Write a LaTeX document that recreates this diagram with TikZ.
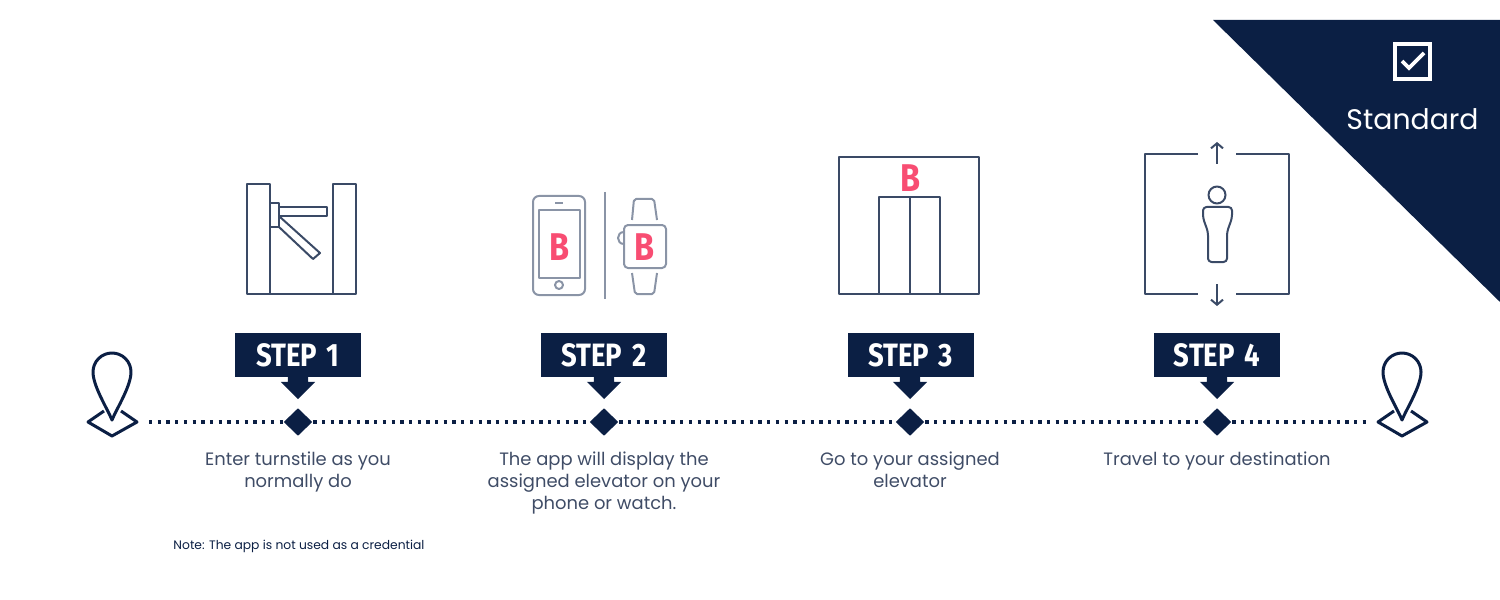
\documentclass[tikz,border=0pt]{standalone}
\usepackage{fontspec}
\setmainfont{Poppins}
\newfontfamily\stepfont[FakeStretch=0.85, WordSpace=1.5]{Fira Sans}
\newfontfamily\badgefont[FakeStretch=0.84]{Fira Sans}
\usepackage{xcolor}
\usetikzlibrary{shapes.geometric, shapes.arrows, arrows.meta}
\definecolor{navy}{HTML}{0B1F44}
\definecolor{iconline}{HTML}{3A4A66}
\definecolor{paleline}{HTML}{8A94A6}
\definecolor{brandred}{HTML}{F84D72}
\definecolor{bodytext}{HTML}{3F4C66}

\begin{document}
\begin{tikzpicture}[
		x=0.1mm, y=-0.1mm,
		% Define styles for the nodes and icons
		step_box/.style={
			rectangle,
			fill=navy,
			text=white,
			font=\fontsize{9.2}{10}\stepfont\bfseries,
			minimum width=12.6mm,
			minimum height=4.4mm,
			inner sep=0pt
		},
		down_arrow/.style={
			single arrow,
			fill=navy,
			shape border rotate=270,
			minimum height=2.3mm,
			single arrow head extend=0.7mm,
			single arrow tip angle=90,
			single arrow head indent=0pt,
			inner xsep=0.95mm,
			inner ysep=0pt,
			anchor=tip
		},
		stop_node/.style={
			diamond,
			fill=navy,
			minimum width=2.9mm,
			minimum height=2.8mm,
			inner sep=0pt
		},
		desc_text/.style={
			font=\fontsize{5.1}{6.24}\selectfont,
			text=bodytext,
			align=center,
			anchor=north,
			inner sep=0pt
		},
		badge_b/.style={
			font=\fontsize{11}{12}\badgefont\bfseries,
			text=brandred,
			inner sep=0pt
		},
		icon_line/.style={
			draw=iconline,
			line width=0.2mm,
			line join=round
		},
		pale_line/.style={
			draw=paleline,
			line width=0.2mm,
			line join=round
		},
		dot_line/.style={
			draw=navy,
			line width=0.33mm,
			dash pattern=on 0.33mm off 0.54mm
		},
		pin_icon/.pic={
			\draw[draw=navy, line width=0.3mm, line join=round]
				(0,-2) .. controls (-5,-14) and (-19,-36) .. (-19,-50)
				arc[start angle=180, end angle=0, radius=1.9mm]
				.. controls (19,-36) and (5,-14) .. (0,-2) -- cycle;
			\draw[draw=navy, line width=0.3mm, line join=round]
				(-8,-11) -- (-24,0) -- (0,14) -- (25,0) -- (9,-11);
		},
		]
		
		\useasboundingbox (0,0) rectangle (1500,600);
		
		% ----- Corner badge -----
		\fill[navy] (1213,20) -- (1500,20) -- (1500,302) -- cycle;
		\node[draw=white, line width=0.36mm, minimum size=3.55mm, inner sep=0pt] (check_box) at (1412.5,61.5) {};
		\draw[white, line width=0.36mm] (1402,61) -- (1409,68) -- (1424,53);
		\node[text=white, font=\fontsize{8.05}{10}\selectfont, inner sep=0pt] (badge_label) at (1412.5,119) {Standard};
		
		% ----- Icons -----
		% Turnstile
		\draw[icon_line] (247,184) rectangle (270,294);
		\draw[icon_line] (333,184) rectangle (356,294);
		\draw[icon_line] (270,294) -- (333,294);
		\draw[icon_line] (270,203) rectangle (279,227);
		\draw[icon_line] (279,207) rectangle (327,216);
		\draw[icon_line] (280,217) -- (320,253) -- (313,259) -- (279,227);
		
		% Phone and watch
		\draw[pale_line, rounded corners=0.6mm] (533,196) rectangle (585,295);
		\draw[pale_line] (539,210) rectangle (580,278);
		\draw[pale_line] (555,203) -- (563,203);
		\draw[pale_line] (559,285) circle[radius=0.4mm];
		\draw[pale_line] (605,192) -- (605,299);
		\draw[pale_line, rounded corners=0.4mm] (624,225) rectangle (666,268);
		\draw[pale_line] (624,232) .. controls (616,232) and (616,244) .. (624,244);
		\draw[pale_line, rounded corners=0.2mm] (632,220) -- (634,199) -- (654,199) -- (657,220);
		\draw[pale_line, rounded corners=0.2mm] (632,273) -- (635,294) -- (654,294) -- (657,273);
		\node[badge_b] (phone_b) at (560,247) {B};
		\node[badge_b] (watch_b) at (645,247) {B};
		
		% Elevator
		\draw[icon_line] (839,157) rectangle (979,294);
		\draw[icon_line] (879,294) -- (879,197) -- (940,197) -- (940,294);
		\draw[icon_line] (910,197) -- (910,294);
		\node[badge_b] (elevator_b) at (911,178) {B};
		
		% Travelling person
		\draw[icon_line] (1198,154) -- (1145,154) -- (1145,294) -- (1198,294);
		\draw[icon_line] (1236,154) -- (1289,154) -- (1289,294) -- (1236,294);
		\draw[icon_line, -{Straight Barb[length=0.5mm, width=1.2mm]}] (1217,164) -- (1217,142);
		\draw[icon_line, -{Straight Barb[length=0.5mm, width=1.2mm]}] (1217,284) -- (1217,306);
		\draw[icon_line] (1217,195) circle[radius=0.85mm];
		\draw[icon_line, rounded corners=0.35mm] (1203,207) -- (1232,207) -- (1232,218) -- (1227,232) -- (1227,262) -- (1208,262) -- (1208,232) -- (1203,218) -- cycle;
		
		% ----- Nodes -----
		% Steps on the route
		\node[step_box] (step_one) at (298,355) {\raisebox{-0.3mm}{STEP 1}};
		\node[step_box] (step_two) at (604,355) {\raisebox{-0.3mm}{STEP 2}};
		\node[step_box] (step_three) at (910.5,355) {\raisebox{-0.3mm}{STEP 3}};
		\node[step_box] (step_four) at (1217,355) {\raisebox{-0.3mm}{STEP 4}};
		
		\node[down_arrow] (arrow_one) at (298,400) {};
		\node[down_arrow] (arrow_two) at (604,400) {};
		\node[down_arrow] (arrow_three) at (910,400) {};
		\node[down_arrow] (arrow_four) at (1217,400) {};
		
		\node[stop_node] (stop_one) at (298,422) {};
		\node[stop_node] (stop_two) at (604,422) {};
		\node[stop_node] (stop_three) at (910,422) {};
		\node[stop_node] (stop_four) at (1217,422) {};
		
		% Start and end of the route
		\pic at (112,422) {pin_icon};
		\pic at (1402,422) {pin_icon};
		\coordinate (route_start) at (149,422);
		\coordinate (route_end) at (1366,422);
		
		% Texts under the route
		\node[desc_text] (text_one) at (298,451) {Enter turnstile as you\\normally do};
		\node[desc_text] (text_two) at (604,451) {The app will display the\\assigned elevator on your\\phone or watch.};
		\node[desc_text] (text_three) at (910,451) {Go to your assigned\\elevator};
		\node[desc_text] (text_four) at (1217,451) {Travel to your destination};
		\node[font=\fontsize{3.5}{4}\selectfont, text=navy, inner sep=0pt] (note_text) at (299,546) {Note: The app is not used as a credential};
		
		% ----- Arrows -----
		\draw[dot_line] (route_start) -- (stop_one.west);
		\draw[dot_line] (stop_one.east) -- (stop_two.west);
		\draw[dot_line] (stop_two.east) -- (stop_three.west);
		\draw[dot_line] (stop_three.east) -- (stop_four.west);
		\draw[dot_line] (stop_four.east) -- (route_end);
		
	\end{tikzpicture}
\end{document}
